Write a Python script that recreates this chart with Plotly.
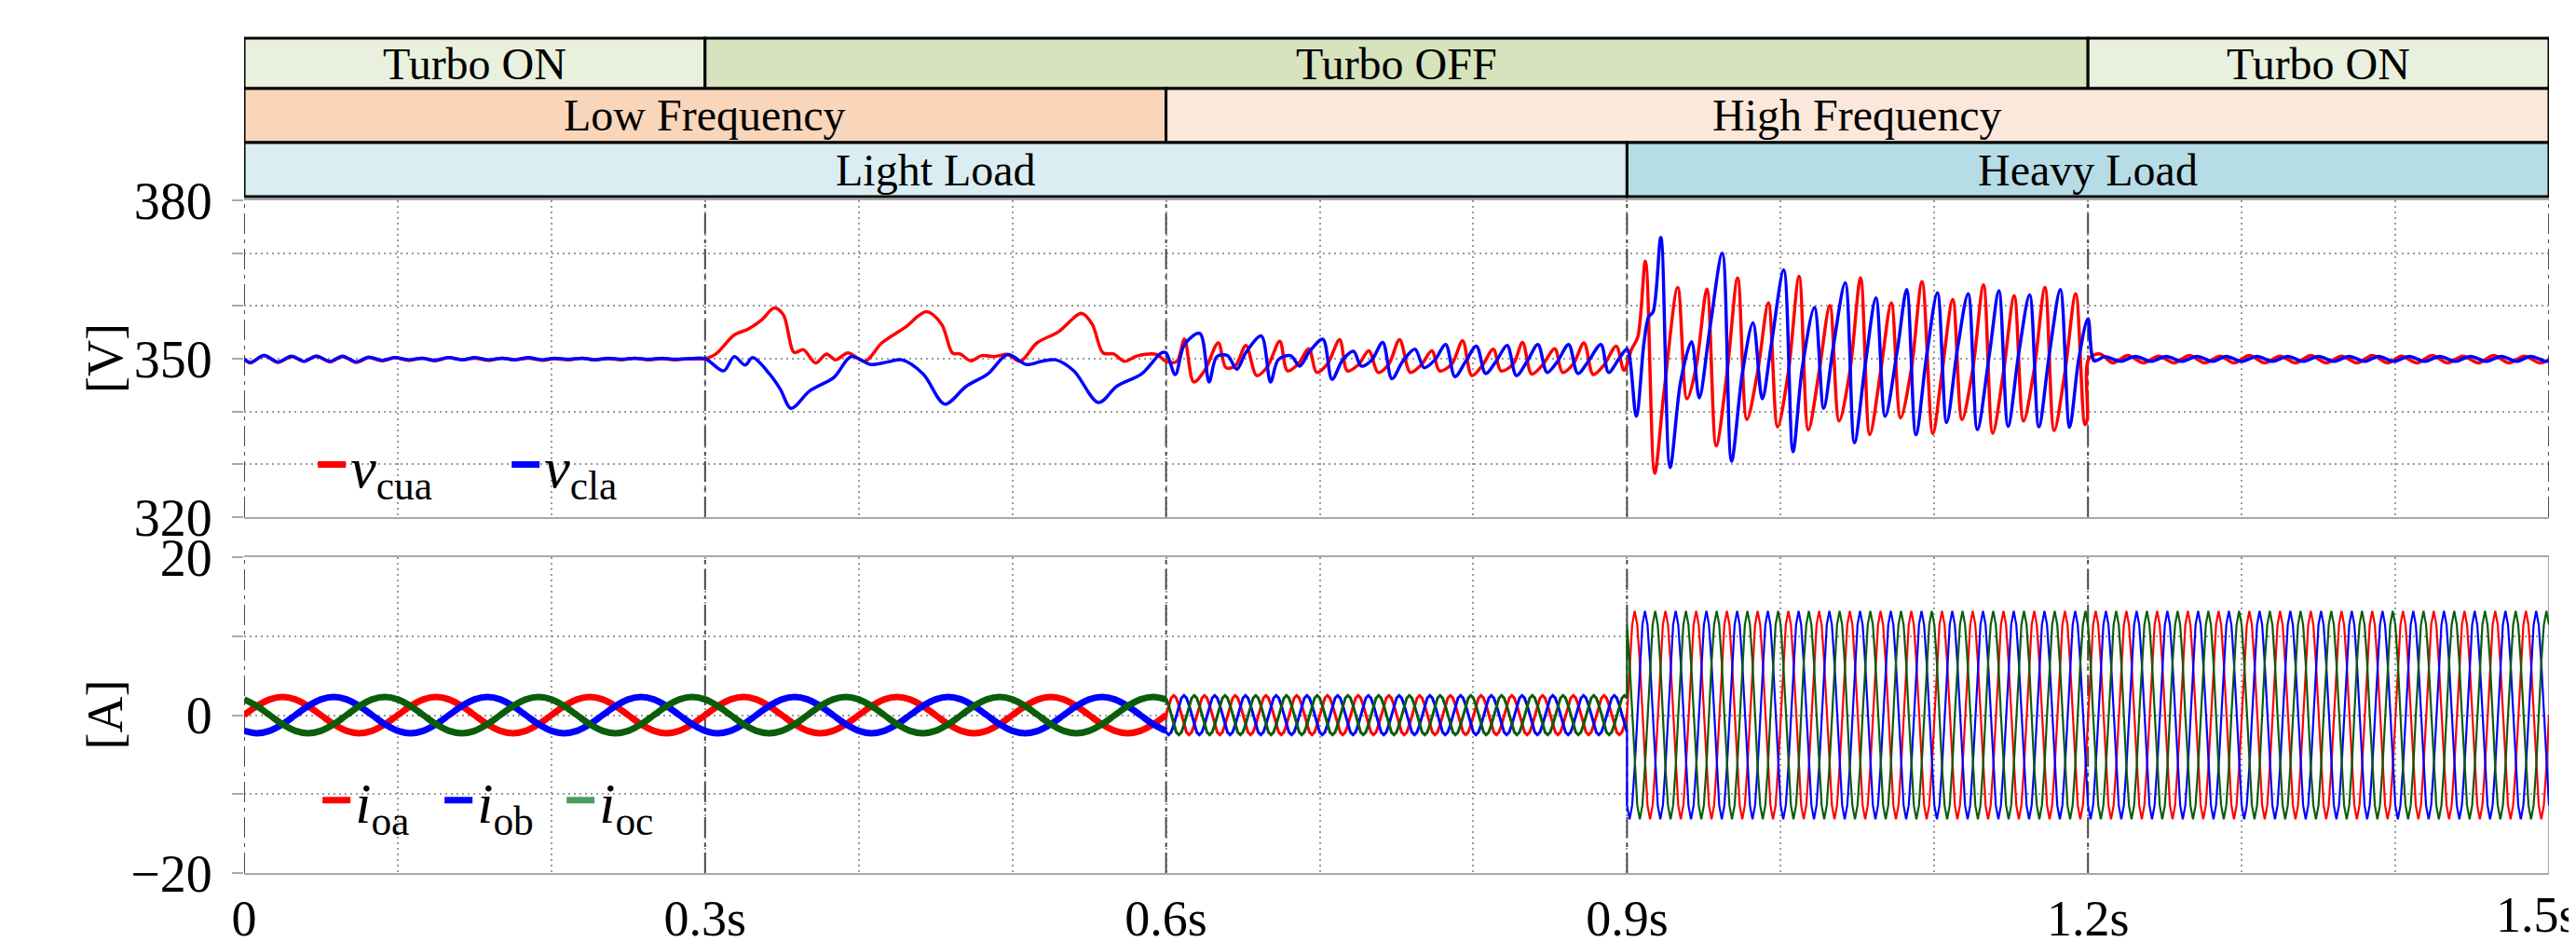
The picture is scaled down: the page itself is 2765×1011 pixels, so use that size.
import plotly.graph_objects as go

FONT = "Liberation Serif"

# ---------------- data ----------------
# operating-mode bars (time segments in s)
turbo_labels = ["Turbo ON", "Turbo OFF", "Turbo ON"]
turbo_start = [0.0, 0.3, 1.2]
turbo_end = [0.3, 1.2, 1.5]
freq_labels = ["Low Frequency", "High Frequency"]
freq_start = [0.0, 0.6]
freq_end = [0.6, 1.5]
load_labels = ["Light Load", "Heavy Load"]
load_start = [0.0, 0.9]
load_end = [0.9, 1.5]

# capacitor voltages [V], read point by point (peaks, troughs, shoulders)
vcua_a_t = [0.000, 0.004, 0.013, 0.022, 0.031, 0.039, 0.047, 0.056, 0.064, 0.073, 0.081, 0.090,
            0.098, 0.107, 0.116, 0.124, 0.133, 0.142, 0.150, 0.159, 0.168, 0.176, 0.185, 0.194,
            0.202, 0.211, 0.220, 0.228, 0.237, 0.246, 0.254, 0.263, 0.272, 0.280, 0.289]
vcua_a_v = [350.0, 349.2, 350.6, 349.3, 350.4, 349.5, 350.5, 349.4, 350.4, 349.3, 350.2, 349.6,
            350.2, 349.7, 350.1, 349.6, 350.2, 349.8, 350.1, 349.7, 350.1, 349.8, 350.1, 349.7,
            350.0, 349.8, 350.1, 349.8, 350.0, 349.8, 350.1, 349.8, 350.0, 349.8, 350.0]
vcla_a_v = [350.0, 349.3, 350.6, 349.4, 350.5, 349.5, 350.5, 349.5, 350.5, 349.4, 350.3, 349.7,
            350.2, 349.8, 350.1, 349.7, 350.2, 349.8, 350.2, 349.8, 350.1, 349.8, 350.2, 349.8,
            350.1, 349.9, 350.1, 349.8, 350.1, 349.9, 350.1, 349.9, 350.1, 349.9, 350.0]

vcua_b_t = [0.300, 0.307, 0.319, 0.328, 0.337, 0.345, 0.351, 0.358, 0.364, 0.372, 0.379, 0.385,
            0.393, 0.404, 0.415, 0.430, 0.444, 0.454, 0.461, 0.466, 0.473, 0.480, 0.488, 0.497,
            0.505, 0.516, 0.530, 0.545, 0.552, 0.559, 0.566, 0.573, 0.581, 0.594]
vcua_b_v = [350.0, 350.9, 354.5, 355.6, 357.4, 359.6, 358.3, 351.2, 351.7, 349.2, 350.9, 349.8,
            351.1, 349.5, 353.0, 355.9, 358.9, 356.5, 351.1, 350.9, 349.6, 350.6, 350.4, 350.8,
            349.5, 353.0, 355.1, 358.6, 356.5, 351.1, 350.9, 349.5, 350.5, 350.8]
vcla_b_t = [0.300, 0.312, 0.319, 0.326, 0.331, 0.342, 0.349, 0.356, 0.368, 0.384, 0.395, 0.408,
            0.419, 0.428, 0.442, 0.456, 0.470, 0.484, 0.497, 0.509, 0.519, 0.528, 0.540, 0.556,
            0.568, 0.584, 0.597]
vcla_b_v = [350.0, 347.7, 350.4, 348.8, 350.2, 347.1, 344.2, 340.6, 343.9, 346.5, 350.4, 348.9,
            349.4, 349.8, 347.1, 341.4, 344.8, 347.1, 350.8, 348.9, 349.5, 349.8, 347.7, 341.7,
            344.8, 347.1, 351.1]

vcua_c_t = [0.600, 0.607, 0.612, 0.618, 0.625, 0.634, 0.639, 0.645, 0.652, 0.659, 0.666, 0.674,
            0.679, 0.686, 0.693, 0.698, 0.705, 0.713, 0.718, 0.725, 0.732, 0.738, 0.745, 0.752,
            0.759, 0.766, 0.773, 0.778, 0.786, 0.793, 0.799, 0.806, 0.813, 0.818, 0.826, 0.832,
            0.838, 0.845, 0.853, 0.858, 0.865, 0.872, 0.878, 0.885, 0.893, 0.898]
vcua_c_v = [349.5, 349.5, 353.7, 345.6, 347.7, 353.0, 348.3, 348.6, 352.5, 346.8, 348.5, 353.3,
            347.7, 349.0, 351.9, 347.4, 349.0, 353.6, 347.7, 348.8, 351.5, 347.4, 349.0, 353.6,
            347.4, 348.8, 351.5, 347.7, 349.0, 353.4, 346.8, 348.8, 351.8, 347.7, 349.0, 353.1,
            347.1, 348.8, 351.9, 347.4, 349.0, 353.0, 347.0, 348.8, 352.4, 347.8]
vcla_c_t = [0.600, 0.606, 0.612, 0.622, 0.628, 0.633, 0.640, 0.646, 0.652, 0.662, 0.668, 0.673,
            0.681, 0.687, 0.693, 0.702, 0.708, 0.715, 0.722, 0.727, 0.734, 0.741, 0.747, 0.754,
            0.762, 0.768, 0.775, 0.782, 0.788, 0.795, 0.802, 0.808, 0.815, 0.822, 0.828, 0.835,
            0.842, 0.848, 0.855, 0.862, 0.868, 0.875, 0.883, 0.888, 0.895]
vcla_c_v = [351.1, 347.0, 352.7, 354.8, 345.6, 350.4, 350.6, 348.0, 351.2, 354.3, 345.6, 349.8,
            350.6, 348.6, 351.2, 353.7, 346.1, 349.8, 351.4, 348.6, 349.8, 353.1, 346.2, 349.5,
            351.8, 348.3, 349.8, 352.7, 346.6, 349.5, 352.4, 347.2, 349.6, 352.5, 346.8, 349.5,
            352.7, 347.4, 349.6, 352.7, 347.2, 349.6, 352.7, 347.4, 350.1]

vcua_d_t = [0.903, 0.907, 0.912, 0.918, 0.924, 0.933, 0.939, 0.945, 0.952, 0.958, 0.965, 0.972,
            0.978, 0.985, 0.992, 0.998, 1.005, 1.012, 1.018, 1.025, 1.032, 1.038, 1.045, 1.052,
            1.058, 1.065, 1.072, 1.078, 1.085, 1.092, 1.099, 1.105, 1.112, 1.118, 1.125, 1.132,
            1.138, 1.145, 1.152, 1.158, 1.165, 1.172, 1.178, 1.185, 1.192, 1.198, 1.1995, 1.2005,
            1.208]
vcua_d_v = [351.8, 354.1, 368.5, 328.3, 343.5, 363.5, 342.4, 348.5, 363.2, 333.5, 347.1, 365.3,
            338.5, 347.5, 360.6, 337.1, 347.5, 365.6, 336.5, 347.5, 360.1, 338.2, 347.5, 365.3,
            335.6, 347.5, 360.6, 338.8, 348.0, 364.6, 335.8, 347.5, 361.2, 338.5, 348.0, 364.0,
            335.9, 347.5, 361.9, 338.2, 348.0, 363.5, 336.4, 347.5, 362.3, 337.5, 338.5, 350.0,
            350.9]
vcla_d_t = [0.900, 0.906, 0.911, 0.914, 0.917, 0.922, 0.928, 0.935, 0.942, 0.947, 0.954, 0.962,
            0.968, 0.975, 0.982, 0.988, 0.994, 1.002, 1.008, 1.014, 1.022, 1.028, 1.034, 1.042,
            1.048, 1.055, 1.062, 1.068, 1.076, 1.082, 1.088, 1.095, 1.102, 1.108, 1.115, 1.122,
            1.128, 1.136, 1.142, 1.148, 1.155, 1.162, 1.168, 1.175, 1.182, 1.188, 1.194, 1.200,
            1.204]
vcla_d_v = [351.8, 339.1, 352.9, 357.9, 358.9, 373.0, 329.4, 345.9, 353.2, 342.6, 355.9, 370.0,
            330.6, 347.1, 356.8, 342.4, 352.9, 366.8, 332.4, 348.2, 359.7, 340.6, 351.8, 364.4,
            334.1, 348.8, 361.5, 339.1, 351.8, 363.1, 335.6, 350.6, 362.5, 337.9, 351.8, 362.3,
            336.6, 351.2, 362.9, 337.2, 351.2, 362.1, 337.1, 351.2, 363.1, 337.0, 350.0, 357.6,
            349.6]

vcua_e_t = [1.216, 1.226, 1.236, 1.246, 1.256, 1.266, 1.276, 1.286, 1.295, 1.305, 1.315, 1.325,
            1.335, 1.345, 1.355, 1.365, 1.375, 1.385, 1.395, 1.404, 1.414, 1.424, 1.434, 1.444,
            1.454, 1.464, 1.474, 1.484, 1.494, 1.500]
vcua_e_v = [349.2, 350.6, 349.2, 350.5, 349.2, 350.6, 349.2, 350.5, 349.2, 350.6, 349.2, 350.5,
            349.2, 350.6, 349.2, 350.5, 349.2, 350.6, 349.2, 350.5, 349.2, 350.6, 349.2, 350.5,
            349.2, 350.6, 349.2, 350.5, 349.2, 349.8]
vcla_e_t = [1.211, 1.221, 1.231, 1.241, 1.251, 1.261, 1.271, 1.281, 1.290, 1.300, 1.310, 1.320,
            1.330, 1.340, 1.350, 1.360, 1.370, 1.380, 1.389, 1.399, 1.409, 1.419, 1.429, 1.439,
            1.449, 1.459, 1.469, 1.479, 1.488, 1.498, 1.500]
vcla_e_v = [350.4, 349.5, 350.45, 349.5, 350.45, 349.5, 350.45, 349.5, 350.45, 349.5, 350.45,
            349.5, 350.45, 349.5, 350.45, 349.5, 350.45, 349.5, 350.45, 349.5, 350.45, 349.5,
            350.45, 349.5, 350.45, 349.5, 350.45, 349.5, 350.45, 349.5, 349.6]

# output currents: per-segment frequency and peak value,
# one normalised cycle (12 read points) shared by the three phases
current_seg_start = [0.0, 0.6, 0.9]
current_seg_end = [0.6, 0.9, 1.5]
current_freq_hz = [10, 50, 50]
current_peak_a = [2.3, 2.5, 13.2]
unit_cycle = [0.0, 0.5, 0.866, 1.0, 0.866, 0.5, 0.0, -0.5, -0.866, -1.0, -0.866, -0.5]
phase_shift_steps = [0, -4, 4]          # i_oa, i_ob (-120 deg), i_oc (+120 deg)

# axis ticks
v_tickvals = [320, 350, 380]
v_ticktext = ["320", "350", "380"]
v_minorvals = [330, 340, 360, 370]
i_tickvals = [-20, 0, 20]
i_ticktext = ["\u221220", "0", "20"]
i_minorvals = [-10, 10]
t_tickvals = [0.0, 0.3, 0.6, 0.9, 1.2]
t_ticktext = ["0", "0.3s", "0.6s", "0.9s", "1.2s"]
t_end_val = 1.5
t_end_text = "1.5s"
t_minorvals = [0.1, 0.2, 0.4, 0.5, 0.7, 0.8, 1.0, 1.1, 1.3, 1.4]
mode_lines = [0.0, 0.3, 0.6, 0.9, 1.2]

# ---------------- styles ----------------
RED, BLUE, GREEN, GREEN_LEG = "#FF0000", "#0000FF", "#0A5E0A", "#4A9E62"
turbo_colors = ["#E9F0DD", "#D7E3BD", "#E9F0DD"]
freq_colors = ["#F9D5BA", "#FCE8DB"]
load_colors = ["#DAEDF3", "#B6DCE6"]
current_widths = [7, 3, 2.2]
GRID = "#9a9a9a"
BORDER = "#a8a8a8"
DASHDOT = "#4a4a4a"

fig = go.Figure()

vcua_t = vcua_a_t + vcua_b_t + vcua_c_t + vcua_d_t + vcua_e_t
vcua_v = vcua_a_v + vcua_b_v + vcua_c_v + vcua_d_v + vcua_e_v
vcla_t = vcua_a_t + vcla_b_t + vcla_c_t + vcla_d_t + vcla_e_t
vcla_v = vcla_a_v + vcla_b_v + vcla_c_v + vcla_d_v + vcla_e_v

fig.add_trace(go.Scatter(x=vcua_t, y=vcua_v, mode="lines", showlegend=False,
                         line=dict(color=RED, width=3.5, shape="spline", smoothing=0.9),
                         xaxis="x", yaxis="y"))
fig.add_trace(go.Scatter(x=vcla_t, y=vcla_v, mode="lines", showlegend=False,
                         line=dict(color=BLUE, width=3.5, shape="spline", smoothing=0.9),
                         xaxis="x", yaxis="y"))


def phase_series(seg, shift):
    f = current_freq_hz[seg]
    amp = current_peak_a[seg]
    n = int(round((current_seg_end[seg] - current_seg_start[seg]) * f * 12))
    ts = [current_seg_start[seg] + k / (12.0 * f) for k in range(n + 1)]
    vs = [amp * unit_cycle[(k + shift) % 12] for k in range(n + 1)]
    if seg > 0:
        ts = [current_seg_start[seg]] + ts
        vs = [current_peak_a[seg - 1] * unit_cycle[shift % 12]] + vs
    return ts, vs


phase_colors = [RED, BLUE, GREEN]
for seg in range(len(current_seg_start)):
    for ph in range(3):
        ts, vs = phase_series(seg, phase_shift_steps[ph])
        shape = "spline" if seg == 0 else "linear"
        fig.add_trace(go.Scatter(x=ts, y=vs, mode="lines", showlegend=False,
                                 line=dict(color=phase_colors[ph], width=current_widths[seg],
                                           shape=shape),
                                 xaxis="x2", yaxis="y2"))

# legend entries
fig.add_trace(go.Scatter(x=[None], y=[None], mode="lines", name="<i>v</i><sub>cua</sub>",
                         line=dict(color=RED, width=7), legend="legend", xaxis="x", yaxis="y"))
fig.add_trace(go.Scatter(x=[None], y=[None], mode="lines", name="<i>v</i><sub>cla</sub>",
                         line=dict(color=BLUE, width=7), legend="legend", xaxis="x", yaxis="y"))
for name, col in zip(["<i>i</i><sub>oa</sub>", "<i>i</i><sub>ob</sub>", "<i>i</i><sub>oc</sub>"],
                     [RED, BLUE, GREEN_LEG]):
    fig.add_trace(go.Scatter(x=[None], y=[None], mode="lines", name=name,
                             line=dict(color=col, width=7), legend="legend2",
                             xaxis="x2", yaxis="y2"))

shapes = []
annotations = []

# mode bars above the plot
ROW_Y = [(1.2410, 1.1662), (1.1662, 1.0859), (1.0859, 1.0055)]
rows = [(turbo_labels, turbo_start, turbo_end, turbo_colors),
        (freq_labels, freq_start, freq_end, freq_colors),
        (load_labels, load_start, load_end, load_colors)]
for (labels, starts, ends, cols), (ytop, ybot) in zip(rows, ROW_Y):
    for lab, s, e, c in zip(labels, starts, ends, cols):
        shapes.append(dict(type="rect", xref="x", yref="paper", x0=s, x1=e, y0=ybot, y1=ytop,
                           fillcolor=c, line=dict(color="black", width=3), layer="above"))
        annotations.append(dict(x=(s + e) / 2, y=(ytop + ybot) / 2, xref="x", yref="paper",
                                text=lab, showarrow=False,
                                font=dict(family=FONT, size=48, color="black"),
                                xanchor="center", yanchor="middle"))

# dash-dot mode-change lines
DD = "22px,6px,4px,6px"
for xv in mode_lines + [1.5]:
    shapes.append(dict(type="line", xref="x", yref="y", x0=xv, x1=xv, y0=320, y1=380,
                       line=dict(color=DASHDOT, width=2, dash=DD), layer="between"))
for xv in mode_lines:
    shapes.append(dict(type="line", xref="x2", yref="y2", x0=xv, x1=xv, y0=-20, y1=20,
                       line=dict(color=DASHDOT, width=2, dash=DD), layer="between"))
shapes.append(dict(type="line", xref="x2", yref="y2", x0=1.5, x1=1.5, y0=-20, y1=20,
                   line=dict(color=BORDER, width=2), layer="between"))

# axis titles
annotations.append(dict(x=-0.0602, y=0.7646, xref="paper", yref="paper", text="[V]",
                        textangle=-90, showarrow=False,
                        font=dict(family=FONT, size=54, color="black"),
                        xanchor="center", yanchor="middle"))
annotations.append(dict(x=-0.0602, y=0.2348, xref="paper", yref="paper", text="[A]",
                        textangle=-90, showarrow=False,
                        font=dict(family=FONT, size=54, color="black"),
                        xanchor="center", yanchor="middle"))

ytickfont = dict(family=FONT, size=56, color="black")
xtickfont = dict(family=FONT, size=54, color="black")

# last time label sits at the right edge of the axis; keep it inside the page
annotations.append(dict(x=t_end_val, y=-20, xref="x2", yref="y2", text=t_end_text,
                        showarrow=False, font=xtickfont, xanchor="right", yanchor="top",
                        xshift=34, yshift=-13))

grid_kw = dict(showgrid=True, gridcolor=GRID, gridwidth=1.5, griddash="2px,4px")
common_x = dict(range=[0, 1.5], tickvals=t_tickvals, zeroline=False, showline=True,
                mirror=True, linecolor=BORDER, linewidth=2, ticks="", automargin=False,
                minor=dict(tickvals=t_minorvals, ticks="", **grid_kw), **grid_kw)
ytick_kw = dict(tickfont=ytickfont, ticks="outside", ticklen=12, tickwidth=2, tickcolor=BORDER,
                ticklabelstandoff=10, zeroline=False, showline=False, automargin=False,
                **grid_kw)
fig.update_layout(
    width=2765, height=1011, autosize=False,
    margin=dict(l=254, r=37, t=207, b=82, autoexpand=False),
    paper_bgcolor="white", plot_bgcolor="white",
    font=dict(family=FONT, color="black"),
    xaxis=dict(domain=[0, 1], anchor="y", showticklabels=False, **common_x),
    xaxis2=dict(domain=[0, 1], anchor="y2", ticktext=t_ticktext, tickfont=xtickfont,
                showticklabels=True, ticklabeloverflow="allow", **common_x),
    yaxis=dict(domain=[0.5291, 1], anchor="x", range=[320, 380], tickvals=v_tickvals,
               ticktext=v_ticktext,
               minor=dict(tickvals=v_minorvals, ticks="outside", ticklen=12, tickwidth=2,
                          tickcolor=BORDER, **grid_kw),
               **ytick_kw),
    yaxis2=dict(domain=[0, 0.4695], anchor="x2", range=[-20, 20], tickvals=i_tickvals,
                ticktext=i_ticktext,
                minor=dict(tickvals=i_minorvals, ticks="outside", ticklen=12, tickwidth=2,
                           tickcolor=BORDER, **grid_kw),
                **ytick_kw),
    legend=dict(x=0.030, y=0.607, xanchor="left", yanchor="middle", orientation="h",
                font=dict(family=FONT, size=62, color="black"), bgcolor="rgba(0,0,0,0)",
                itemwidth=30, entrywidth=163),
    legend2=dict(x=0.032, y=0.108, xanchor="left", yanchor="middle", orientation="h",
                 font=dict(family=FONT, size=62, color="black"), bgcolor="rgba(0,0,0,0)",
                 itemwidth=30, entrywidth=86),
    shapes=shapes,
    annotations=annotations,
    showlegend=True,
)

fig.write_html("out.html")
